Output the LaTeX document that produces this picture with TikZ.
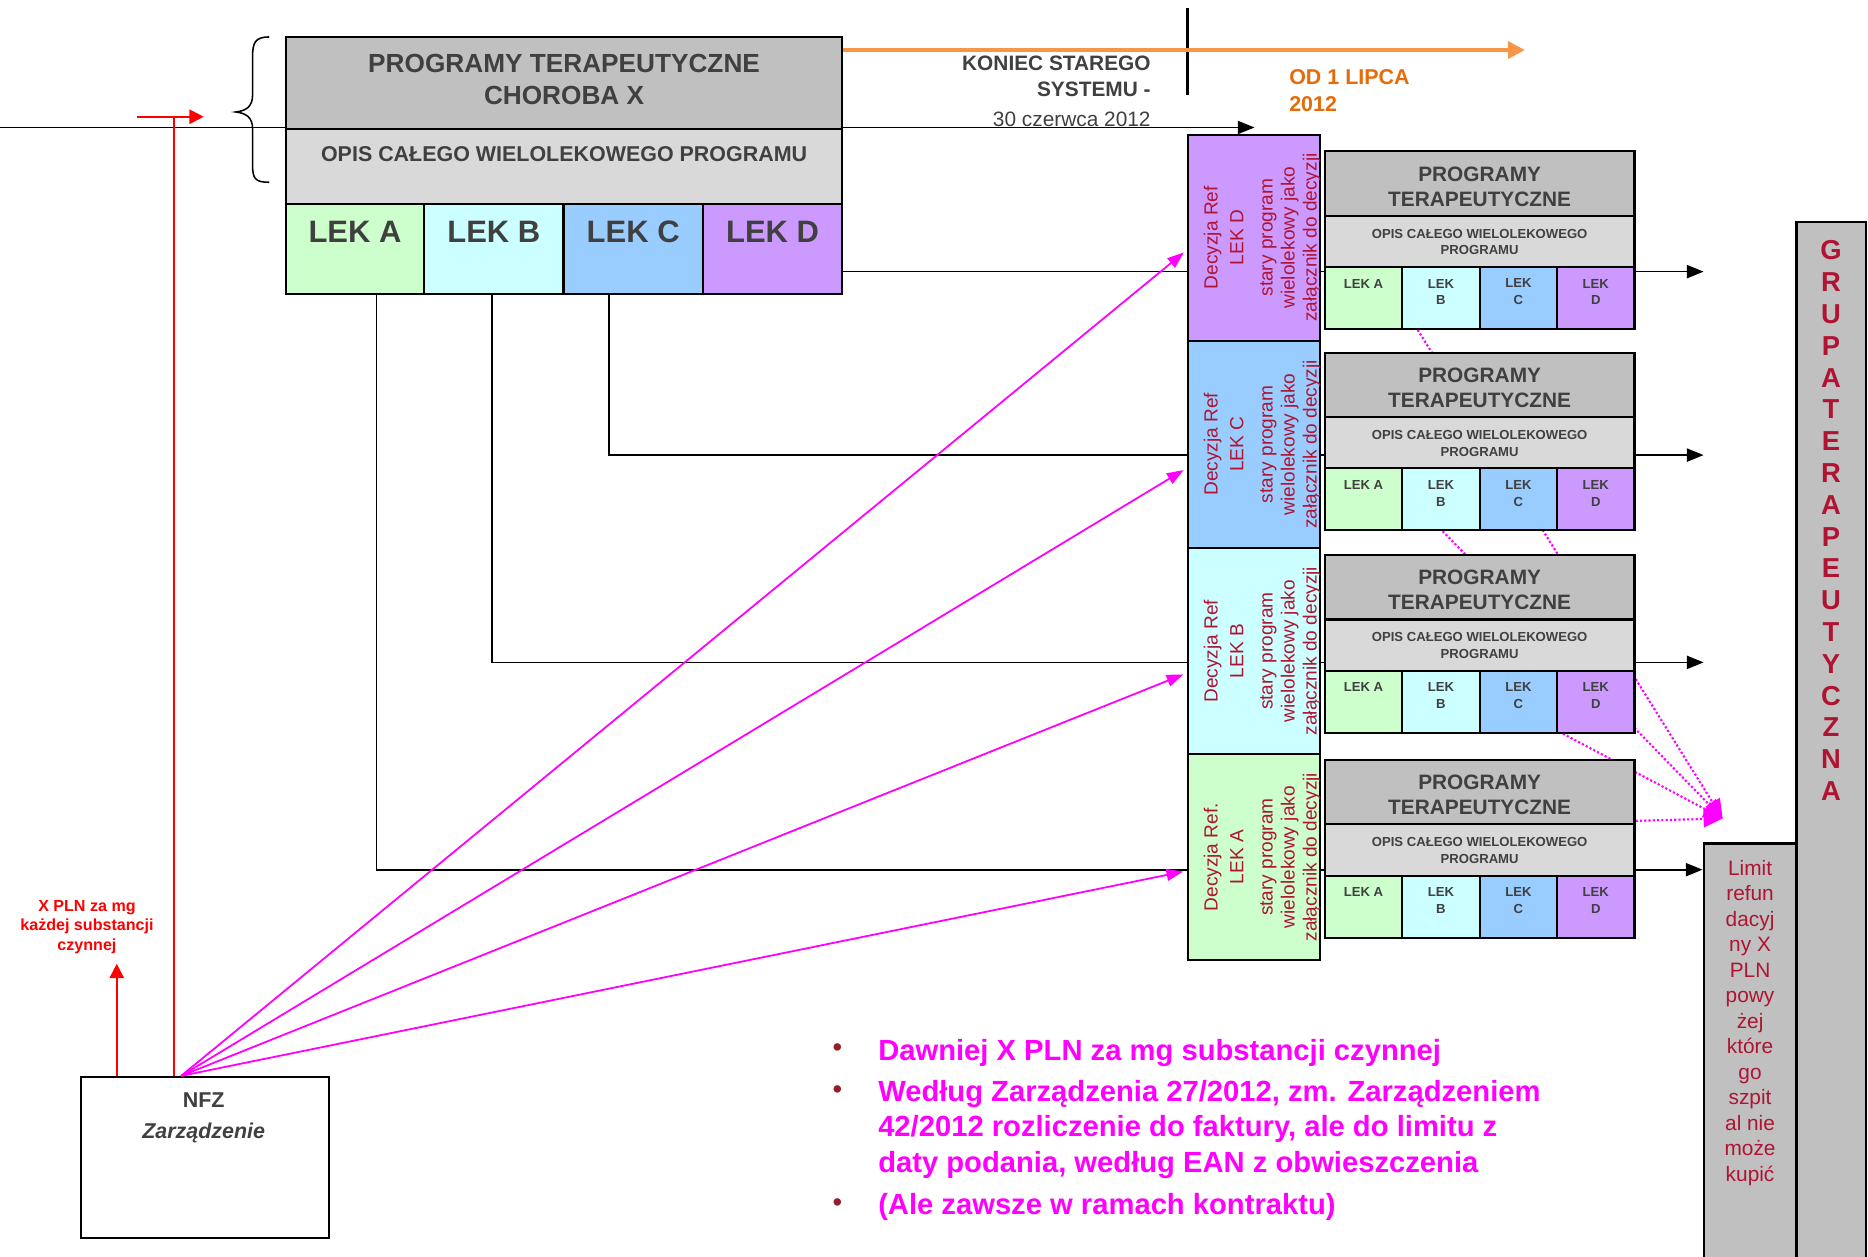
\documentclass[tikz,border=0pt]{standalone}
\usepackage{fontspec}
\setmainfont{Liberation Sans}
\usetikzlibrary{arrows.meta}
\pgfdeclarelayer{bg}
\pgfsetlayers{bg,main}
\definecolor{tgray}{RGB}{64,64,64}
\definecolor{boxdark}{RGB}{192,192,192}
\definecolor{boxlight}{RGB}{217,217,217}
\definecolor{lekA}{RGB}{204,255,204}
\definecolor{lekB}{RGB}{204,255,255}
\definecolor{lekC}{RGB}{153,204,255}
\definecolor{lekD}{RGB}{204,153,255}
\definecolor{dred}{RGB}{175,20,50}
\definecolor{orangeL}{RGB}{247,150,70}
\definecolor{orangeT}{RGB}{228,108,10}
\definecolor{mag}{RGB}{255,0,255}
\definecolor{bulletc}{RGB}{150,30,40}
\newcommand{\fs}[2]{\fontsize{#1}{#2}\selectfont}
\newcommand{\rbox}[6]{%
  \pgfmathsetmacro{\rbX}{(#2+#4)/2}%
  \pgfmathsetmacro{\rbY}{(#3+#5)/2}%
  \pgfmathsetmacro{\rbW}{#4-#2}%
  \pgfmathsetmacro{\rbH}{#5-#3}%
  \node[box,#6,minimum width=\rbW pt,minimum height=\rbH pt] (#1) at (\rbX,\rbY) {};}
\newcommand{\sgroup}[2]{%
  \pgfmathsetmacro{\sgA}{#2}%
  \pgfmathsetmacro{\sgB}{#2+54}%
  \pgfmathsetmacro{\sgC}{#2+97}%
  \pgfmathsetmacro{\sgD}{#2+149}%
  \rbox{#1t}{1112}{\sgA}{1372}{\sgB}{fill=boxdark}
  \rbox{#1o}{1112}{\sgB}{1372}{\sgC}{fill=boxlight}
  \rbox{#1a}{1112}{\sgC}{1177}{\sgD}{fill=lekA}
  \rbox{#1b}{1177}{\sgC}{1242}{\sgD}{fill=lekB}
  \rbox{#1c}{1242}{\sgC}{1307}{\sgD}{fill=lekC}
  \rbox{#1d}{1307}{\sgC}{1372}{\sgD}{fill=lekD}
  \node[lbl,font=\bfseries\fs{17.5}{21},align=center] (#1tt) at (1242,#2+29.5) {PROGRAMY\\TERAPEUTYCZNE};
  \node[lbl,font=\bfseries\fs{11}{14},align=center] (#1ot) at (1242,#2+76) {OPIS CAŁEGO WIELOLEKOWEGO\\PROGRAMU};
  \node[lbl,font=\bfseries\fs{11}{14}] (#1at) at (1144.5,#2+111) {LEK A};
  \node[lbl,font=\bfseries\fs{11}{14},align=center] (#1bt) at (1209.5,#2+118) {LEK\\B};
  \node[lbl,font=\bfseries\fs{11}{14},align=center] (#1ct) at (1274.5,#2+118) {LEK\\C};
  \node[lbl,font=\bfseries\fs{11}{14},align=center] (#1dt) at (1339.5,#2+118) {LEK\\D};
}
\begin{document}
\begin{tikzpicture}[x=1pt,y=-1pt,
  box/.style={draw=black,line width=1.8pt,inner sep=0pt},
  lbl/.style={inner sep=0pt,text=tgray},
  conn/.style={draw=black,line width=1.4pt},
  blk/.style={conn,-{Triangle[length=14pt,width=11pt]}},
  magarr/.style={draw=mag,line width=1.5pt,-{Triangle[length=14pt,width=10pt]}},
  magdot/.style={draw=mag,line width=1.8pt,dash pattern=on 1.8pt off 1.8pt,-{Triangle[length=16pt,width=14pt]}},
  redarr/.style={draw=red,line width=1.5pt,-{Triangle[length=12pt,width=12pt]}},
  dec/.style={rotate=90,inner sep=0pt,text=dred,align=center,font=\fs{16}{18.5}},
]
\useasboundingbox (0,0) rectangle (1568,1055);
\begin{pgfonlayer}{bg}
\fill[white] (0,0) rectangle (1568,1055);
\end{pgfonlayer}

% main programme box
\rbox{mT}{240}{31}{707}{108}{fill=boxdark}
\rbox{mO}{240}{108}{707}{171}{fill=boxlight}
\rbox{mA}{240}{171}{356}{247}{fill=lekA}
\rbox{mB}{356}{171}{473}{247}{fill=lekB}
\rbox{mC}{473}{171}{590}{247}{fill=lekC}
\rbox{mD}{590}{171}{707}{247}{fill=lekD}
\node[lbl,font=\bfseries\fs{22}{27},align=center] (mTt) at (473.5,66.5) {PROGRAMY TERAPEUTYCZNE\\CHOROBA X};
\node[lbl,font=\bfseries\fs{18}{22}] (mOt) at (473.5,129) {OPIS CAŁEGO WIELOLEKOWEGO PROGRAMU};
\node[lbl,font=\bfseries\fs{26}{30}] (mAt) at (298,195) {LEK A};
\node[lbl,font=\bfseries\fs{26}{30}] (mBt) at (414.5,195) {LEK B};
\node[lbl,font=\bfseries\fs{26}{30}] (mCt) at (531.5,195) {LEK C};
\node[lbl,font=\bfseries\fs{26}{30}] (mDt) at (648.5,195) {LEK D};

% brace
\draw[line width=1.3pt] (226,31) .. controls (214,31) and (212,36) .. (212,48) -- (212,80) .. controls (212,89) and (207,93) .. (198,94) .. controls (207,95) and (212,99) .. (212,108) -- (212,138) .. controls (212,150) and (214,153) .. (226,153);

% time line
\coordinate (tlL) at (0,107);
\coordinate (tlR) at (1053,107);
\begin{pgfonlayer}{bg}
\draw[blk] (tlL) -- (tlR);
\end{pgfonlayer}
\coordinate (vT) at (997,7);
\coordinate (vB) at (997,80);
\draw[line width=2.6pt] (vT) -- (vB);
\coordinate (orR) at (1280,42);
\draw[draw=orangeL,line width=3pt,-{Triangle[length=14pt,width=14pt]}] ([yshift=27.5pt]mT.east) -- (orR);
\node[lbl,font=\bfseries\fs{17.5}{22},align=right,anchor=east] (kon) at (966,64) {KONIEC STAREGO\\SYSTEMU -};
\node[lbl,font=\fs{17.5}{22},anchor=east] (data) at (966,100.5) {30 czerwca 2012};
\node[inner sep=0pt,text=orangeT,font=\bfseries\fs{18}{22},align=left,anchor=west] (od) at (1082,76) {OD 1 LIPCA\\2012};

% decision boxes
\rbox{decD}{997}{113}{1108}{286}{fill=lekD}
\rbox{decC}{997}{286}{1108}{460}{fill=lekC}
\rbox{decB}{997}{460}{1108}{633}{fill=lekB}
\rbox{decA}{997}{633}{1108}{806}{fill=lekA}
\node[dec] (decDt) at (1059.5,199.5) {Decyzja Ref\\[3pt]LEK D\\[6pt]stary program\\wielolekowy jako\\załącznik do decyzji};
\node[dec] (decCt) at (1059.5,373) {Decyzja Ref\\[3pt]LEK C\\[6pt]stary program\\wielolekowy jako\\załącznik do decyzji};
\node[dec] (decBt) at (1059.5,546.5) {Decyzja Ref\\[3pt]LEK B\\[6pt]stary program\\wielolekowy jako\\załącznik do decyzji};
\node[dec] (decAt) at (1059.5,719.5) {Decyzja Ref.\\[3pt]LEK A\\[6pt]stary program\\wielolekowy jako\\załącznik do decyzji};

% small programme groups
\sgroup{g1}{127}
\sgroup{g2}{296}
\sgroup{g3}{466}
\sgroup{g4}{638}

% right boxes
\rbox{limit}{1430}{708}{1508}{1062}{fill=boxdark}
\rbox{grupa}{1508}{186}{1566}{1062}{fill=boxdark}
\node[inner sep=0pt,text=dred,font=\bfseries\fs{23}{26.7},align=center] (grupat) at (1537,437) {G\\R\\U\\P\\A\\T\\E\\R\\A\\P\\E\\U\\T\\Y\\C\\Z\\N\\A};
\node[inner sep=0pt,text=dred,font=\fs{17.5}{21.4},align=center] (limitt) at (1469,858.5) {Limit\\refun\\dacyj\\ny X\\PLN\\powy\\żej\\które\\go\\szpit\\al nie\\może\\kupić};

% connectors from drugs
\coordinate (yD) at (0,228);
\coordinate (yC) at (0,382);
\coordinate (yB) at (0,556);
\coordinate (yA) at (0,730);
\coordinate (eD) at (1430,228);
\coordinate (eC) at (1430,382);
\coordinate (eB) at (1430,556);
\draw[conn] (mD.east |- yD) -- (decD.west |- yD);
\draw[conn] ([xshift=-20.5pt]mC.south) |- (decC.west |- yC);
\draw[conn] ([xshift=-1.5pt]mB.south) |- (decB.west |- yB);
\draw[conn] ([xshift=18pt]mA.south) |- (decA.west |- yA);
\draw[conn] (decD.east |- yD) -- (g1a.west |- yD);
\draw[conn] (decC.east |- yC) -- (g2o.west |- yC);
\draw[conn] (decB.east |- yB) -- (g3o.west |- yB);
\draw[conn] (decA.east |- yA) -- (g4o.west |- yA);
\draw[blk] (g1d.east |- yD) -- (eD);
\draw[blk] (g2o.east |- yC) -- (eC);
\draw[blk] (g3o.east |- yB) -- (eB);
\draw[blk] (g4o.east |- yA) -- (limit.west |- yA);

% magenta dotted lines
\coordinate (mtip) at (1446,687);
\begin{pgfonlayer}{bg}
\draw[magdot] ([xshift=-19.5pt]g1b.south) -- (mtip);
\draw[magdot] ([xshift=1.5pt]g2b.south) -- (mtip);
\draw[magdot] ([xshift=-27.5pt]g3d.south) -- (mtip);
\draw[magdot] ([yshift=-24pt]g4t.east) -- (mtip);
\end{pgfonlayer}

% NFZ
\rbox{nfz}{68}{904}{276}{1039}{fill=white}
\node[lbl,font=\bfseries\fs{18}{26},align=center] (nfzt) at (171,938.5) {NFZ\\\itshape Zarządzenie};
\draw[magarr,shorten >=3pt] ([xshift=-20pt]nfz.north) -- ([yshift=-10.5pt]decD.west);
\draw[magarr,shorten >=3pt] ([xshift=-20pt]nfz.north) -- ([yshift=-20pt]decC.west);
\draw[magarr,shorten >=3pt] ([xshift=-20pt]nfz.north) -- ([yshift=-18.5pt]decB.west);
\draw[magarr,shorten >=3pt] ([xshift=-20pt]nfz.north) -- ([yshift=-11.5pt]decA.west);

% red
\coordinate (rL) at (115,98);
\coordinate (rR) at (171,98);
\draw[redarr] (rL) -- (rR);
\draw[draw=red,line width=1.5pt] ([xshift=-26pt]nfz.north) -- (146,98);
\node[inner sep=0pt,text=red,font=\bfseries\fs{13.5}{16.5},align=center] (redl) at (73,778) {X PLN za mg\\każdej substancji\\czynnej};
\coordinate (redup) at (98,809);
\draw[redarr] ([xshift=-74pt]nfz.north) -- (redup);

% bullets
\node[inner sep=0pt,text=bulletc,font=\fs{23}{26},anchor=base] (b1) at (703,887) {•};
\node[inner sep=0pt,text=bulletc,font=\fs{23}{26},anchor=base] (b2) at (703,922) {•};
\node[inner sep=0pt,text=bulletc,font=\fs{23}{26},anchor=base] (b3) at (703,1017) {•};
\node[inner sep=0pt,text=mag,font=\bfseries\fs{24.5}{29.5},anchor=base west] (t1) at (737,889.8) {Dawniej X PLN za mg substancji czynnej};
\node[inner sep=0pt,text=mag,font=\bfseries\fs{24.5}{29.5},anchor=base west] (t2a) at (737,924.8) {Według Zarządzenia 27/2012, zm. Zarządzeniem};
\node[inner sep=0pt,text=mag,font=\bfseries\fs{24.5}{29.5},anchor=base west] (t2b) at (737,954.3) {42/2012 rozliczenie do faktury, ale do limitu z};
\node[inner sep=0pt,text=mag,font=\bfseries\fs{24.5}{29.5},anchor=base west] (t2c) at (737,983.8) {daty podania, według EAN z obwieszczenia};
\node[inner sep=0pt,text=mag,font=\bfseries\fs{24.5}{29.5},anchor=base west] (t3) at (737,1019.8) {(Ale zawsze w ramach kontraktu)};
\end{tikzpicture}
\end{document}
